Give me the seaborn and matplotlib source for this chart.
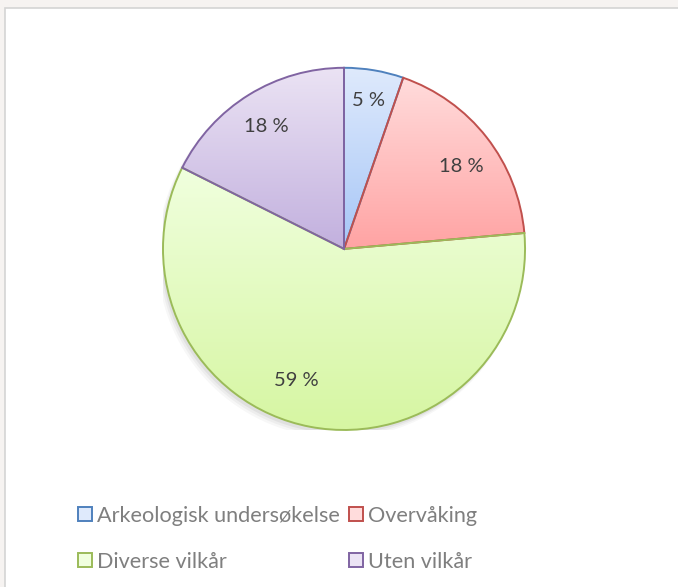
import numpy as np
import matplotlib.pyplot as plt
import seaborn as sns
from matplotlib.patches import Rectangle, Patch
from matplotlib.colors import LinearSegmentedColormap

# ── data ──────────────────────────────────────────────────────────
categories = ['Arkeologisk undersøkelse', 'Overvåking', 'Diverse vilkår', 'Uten vilkår']
shares = [5.3, 18.3, 58.8, 17.6]
pct_labels = ['5 %', '18 %', '59 %', '18 %']

edge_colors = ['#4f81bd', '#c0504d', '#9bbb59', '#8064a2']
top_colors = ['#dfeafc', '#ffdcdc', '#f0ffde', '#ebe3f4']
bottom_colors = ['#a6c6f7', '#ffa3a3', '#d6f6a2', '#c2b0de']

# label placement tweaks (angle shift in degrees, radial distance)
label_shift = [0, -3, -9, 1]
label_dist = [0.83, 0.79, 0.77, 0.80]

sns.set_theme(style='white')
plt.rcParams['font.family'] = ['Lato', 'DejaVu Sans']

fig = plt.figure(figsize=(6.78, 5.87), dpi=100)
fig.patch.set_facecolor('#f6f3f1')
# white chart area with thin grey frame
fig.patches.append(Rectangle((5 / 678, -0.05), 1.1, 1 - 8 / 587 + 0.05,
                             transform=fig.transFigure, facecolor='white',
                             edgecolor='#d4d4d4', linewidth=1.2, zorder=-5))

ax = fig.add_axes([0.2404, 0.2675, 0.534, 0.617])
ax.set_zorder(2)
wedges, _ = ax.pie(shares, startangle=90, counterclock=False, radius=1,
                   wedgeprops=dict(linewidth=1.4, zorder=3))
ax.set_aspect('equal')
ax.axis('off')

# soft shadow under the pie
for k, a in enumerate([0.05, 0.04, 0.03]):
    ax.add_patch(plt.Circle((-0.012 - 0.006 * k, -0.02 - 0.008 * k), 1.0 + 0.004 * k,
                            color='black', alpha=a, lw=0, zorder=1))
ax.add_patch(plt.Circle((0, 0), 1.0, color='white', lw=0, zorder=1.5))

# vertical gradient fill for each slice, clipped to the wedge
grad = np.linspace(0, 1, 256).reshape(-1, 1)
for w, ec, c0, c1 in zip(wedges, edge_colors, top_colors, bottom_colors):
    w.set_facecolor('none')
    w.set_edgecolor(ec)
    ext = w.get_path().get_extents()
    cmap = LinearSegmentedColormap.from_list('g', [c0, c1])
    im = ax.imshow(grad, cmap=cmap, aspect='auto', origin='upper',
                   extent=[ext.x0, ext.x1, ext.y0, ext.y1], zorder=2)
    im.set_clip_path(w)

# percentage labels
theta = 90.0
for s, lab, sh, d in zip(shares, pct_labels, label_shift, label_dist):
    mid = np.deg2rad(theta - s * 3.6 / 2 + sh)
    theta -= s * 3.6
    ax.text(d * np.cos(mid), d * np.sin(mid), lab, ha='center', va='center',
            fontsize=14.5, color='#404040', zorder=5)
ax.set_xlim(-1.0, 1.0)
ax.set_ylim(-1.0, 1.0)

# legend (two columns, row-wise order)
order = [0, 2, 1, 3]
handles = [Patch(facecolor=top_colors[i], edgecolor=edge_colors[i], linewidth=1.4,
                 label=categories[i]) for i in order]
fig.legend(handles=handles, loc='upper left', bbox_to_anchor=(0.102, 0.153),
           ncol=2, frameon=False, fontsize=15.6, labelcolor='#7f7f7f',
           handlelength=0.65, handleheight=0.65, handletextpad=0.25,
           columnspacing=0.4, labelspacing=1.2, borderaxespad=0)

fig.savefig('out.png', dpi=100, facecolor=fig.get_facecolor())
